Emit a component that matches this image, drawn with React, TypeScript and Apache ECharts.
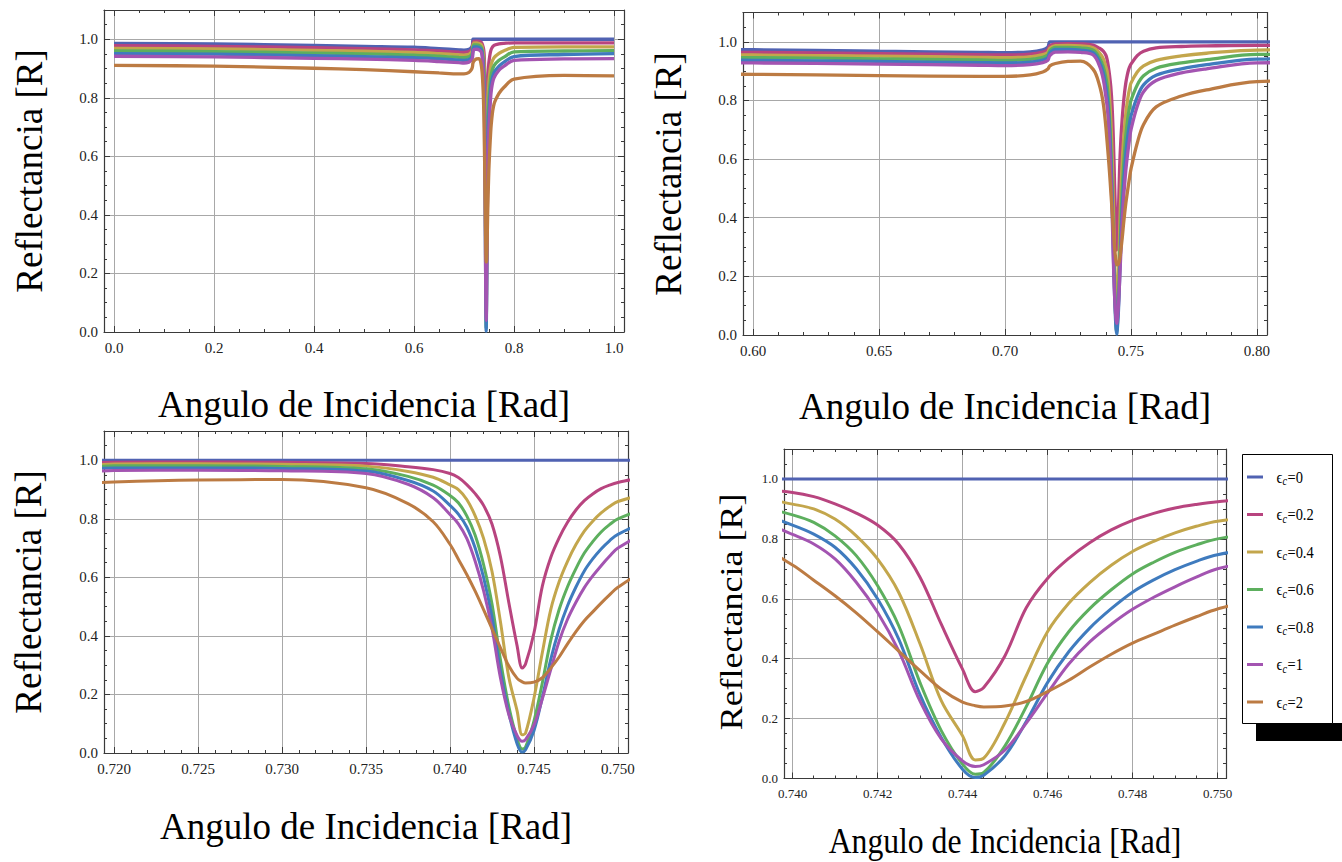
import React, { useEffect, useRef } from "react";
import * as echarts from "echarts";

// Angle of incidence [rad] (shared sample positions)
const ANGLE = [
  0, 0.2, 0.4, 0.5, 0.6, 0.65, 0.69, 0.7, 0.71, 0.715, 0.717, 0.7178, 0.72, 0.725, 0.73, 0.735,
  0.7375, 0.739, 0.74, 0.7405, 0.741, 0.7415, 0.742, 0.7425, 0.743, 0.7435, 0.744, 0.7443, 0.7445,
  0.745, 0.7455, 0.746, 0.7465, 0.747, 0.7475, 0.748, 0.7485, 0.749, 0.7495, 0.75,
  0.7525, 0.755, 0.76, 0.77, 0.78, 0.8, 0.9, 1.0,
];

// Reflectance for each εc
const R_EPS_0 = [
  0.986, 0.984, 0.979, 0.976, 0.973, 0.968, 0.964, 0.963, 0.966, 0.973, 0.982,
  1, 1, 1, 1, 1, 1, 1,
  1, 1, 1, 1, 1, 1, 1, 1, 1, 1, 1,
  1, 1, 1, 1, 1, 1, 1, 1, 1, 1, 1,
  1, 1, 1, 1, 1, 1, 1, 1,
];
const R_EPS_02 = [
  0.978, 0.976, 0.971, 0.968, 0.964, 0.96, 0.956, 0.955, 0.958, 0.965, 0.973,
  0.986, 0.993, 0.994, 0.993, 0.989, 0.978, 0.968,
  0.955, 0.941, 0.917, 0.886, 0.846, 0.782, 0.672, 0.515, 0.365, 0.29, 0.304,
  0.41, 0.57, 0.668, 0.735, 0.788, 0.83, 0.862, 0.885, 0.903, 0.915, 0.924,
  0.953, 0.968, 0.979, 0.984, 0.986, 0.988, 0.988, 0.988,
];
const R_EPS_04 = [
  0.969, 0.967, 0.962, 0.959, 0.955, 0.951, 0.947, 0.946, 0.949, 0.956, 0.964,
  0.978, 0.987, 0.988, 0.986, 0.98, 0.962, 0.942,
  0.916, 0.9, 0.866, 0.81, 0.733, 0.621, 0.45, 0.26, 0.143, 0.062, 0.068,
  0.187, 0.343, 0.49, 0.585, 0.655, 0.712, 0.758, 0.792, 0.82, 0.842, 0.859,
  0.897, 0.918, 0.937, 0.952, 0.961, 0.972, 0.974, 0.974,
];
const R_EPS_06 = [
  0.96, 0.958, 0.953, 0.95, 0.946, 0.942, 0.938, 0.937, 0.94, 0.947, 0.955,
  0.97, 0.981, 0.981, 0.979, 0.971, 0.945, 0.915,
  0.88, 0.855, 0.81, 0.744, 0.644, 0.51, 0.32, 0.16, 0.048, 0.014, 0.02,
  0.109, 0.24, 0.385, 0.49, 0.568, 0.63, 0.683, 0.722, 0.755, 0.78, 0.8,
  0.853, 0.884, 0.91, 0.928, 0.939, 0.957, 0.96, 0.961,
];
const R_EPS_08 = [
  0.951, 0.949, 0.944, 0.941, 0.937, 0.933, 0.929, 0.928, 0.931, 0.938, 0.946,
  0.962, 0.974, 0.974, 0.972, 0.963, 0.931, 0.895,
  0.846, 0.816, 0.772, 0.7, 0.6, 0.465, 0.28, 0.137, 0.031, 0.003, 0.011,
  0.076, 0.19, 0.32, 0.423, 0.503, 0.567, 0.622, 0.663, 0.697, 0.725, 0.747,
  0.812, 0.853, 0.886, 0.908, 0.922, 0.941, 0.948, 0.951,
];
const R_EPS_1 = [
  0.942, 0.94, 0.935, 0.932, 0.928, 0.924, 0.92, 0.919, 0.922, 0.929, 0.937,
  0.953, 0.965, 0.966, 0.964, 0.955, 0.918, 0.872,
  0.815, 0.783, 0.733, 0.655, 0.555, 0.426, 0.258, 0.132, 0.059, 0.04, 0.046,
  0.095, 0.185, 0.285, 0.382, 0.457, 0.515, 0.565, 0.605, 0.64, 0.672, 0.7,
  0.78, 0.83, 0.868, 0.894, 0.908, 0.928, 0.933, 0.934,
];
const R_EPS_2 = [
  0.911, 0.908, 0.901, 0.896, 0.889, 0.885, 0.882, 0.882, 0.887, 0.897, 0.907,
  0.918, 0.926, 0.933, 0.934, 0.906, 0.852, 0.79,
  0.713, 0.662, 0.61, 0.553, 0.49, 0.425, 0.36, 0.298, 0.255, 0.243, 0.239,
  0.242, 0.257, 0.29, 0.328, 0.373, 0.415, 0.452, 0.482, 0.512, 0.54, 0.566,
  0.655, 0.718, 0.778, 0.815, 0.836, 0.864, 0.877, 0.875,
];

const SERIES_VALUES = [R_EPS_0, R_EPS_02, R_EPS_04, R_EPS_06, R_EPS_08, R_EPS_1, R_EPS_2];
const LEGEND_VALUES = ["0", "0.2", "0.4", "0.6", "0.8", "1", "2"];
const SERIES_COLORS = ["#5062B2", "#B8447F", "#C3A64C", "#5DAF5E", "#3F7BBE", "#A354B1", "#BC7B43"];

const Y_TITLE = "Reflectancia [R]";
const X_TITLE = "Angulo de Incidencia [Rad]";
const SERIF = "Liberation Serif";

const PANELS = [
  { left: 104, top: 10, width: 520, height: 322, xMin: -0.02, xMax: 1.02, split: 5, minor: 4, dec: 1, font: 15, lw: 3.3,
    yT: [29, 171], xT: [364, 404], tFont: 37, sx: 1, sy: 1 },
  { left: 743, top: 12.5, width: 524, height: 322.5, xMin: 0.596, xMax: 0.804, split: 4, minor: 5, dec: 2, font: 15, lw: 3.3,
    yT: [668, 174], xT: [1005, 406], tFont: 37, sx: 1, sy: 1 },
  { left: 104, top: 431, width: 524, height: 322, xMin: 0.7194, xMax: 0.7506, split: 6, minor: 5, dec: 3, font: 15, lw: 3,
    yT: [28, 592], xT: [366, 826], tFont: 37, sx: 1, sy: 1 },
  { left: 784, top: 449, width: 442, height: 329.5, xMin: 0.7398, xMax: 0.7502, split: 5, minor: 4, dec: 3, font: 13, lw: 3,
    yT: [731, 612], xT: [1005, 841], tFont: 36, sx: 0.88, sy: 0.85 },
];

export default function App() {
  const ref = useRef<HTMLDivElement>(null);

  useEffect(() => {
    if (!ref.current) return;
    const chart = echarts.init(ref.current, undefined, { renderer: "svg" });

    const grid: any[] = [];
    const xAxis: any[] = [];
    const yAxis: any[] = [];
    const series: any[] = [];
    const graphic: any[] = [];
    const frame = "#3a3a3a";

    PANELS.forEach((p, i) => {
      grid.push({ left: p.left, top: p.top, width: p.width, height: p.height, containLabel: false });
      const tick = { show: true, inside: true, length: 6, lineStyle: { color: frame, width: 1 } };
      const line = { show: true, onZero: false, lineStyle: { color: frame, width: 1.2 } };
      const xMinor = { show: true, splitNumber: p.minor, length: 3, lineStyle: { color: frame, width: 1 } };
      const yMinor = { show: true, splitNumber: 4, length: 3, lineStyle: { color: frame, width: 1 } };
      const labelStyle = { fontFamily: SERIF, fontSize: p.font, color: "#222" };
      xAxis.push({
        type: "value", gridIndex: i, position: "bottom", min: p.xMin, max: p.xMax, splitNumber: p.split,
        axisLine: line, axisTick: tick, minorTick: xMinor,
        splitLine: { show: true, lineStyle: { color: "#a8a8a8", width: 1 } },
        axisLabel: { ...labelStyle, margin: 8, showMinLabel: false, showMaxLabel: false,
          formatter: (v: number) => v.toFixed(p.dec) },
      });
      xAxis.push({
        type: "value", gridIndex: i, position: "top", min: p.xMin, max: p.xMax, splitNumber: p.split,
        axisLine: line, axisTick: tick, minorTick: xMinor, splitLine: { show: false }, axisLabel: { show: false },
      });
      yAxis.push({
        type: "value", gridIndex: i, position: "left", min: 0, max: 1.1, splitNumber: 5,
        axisLine: line, axisTick: tick, minorTick: yMinor,
        splitLine: { show: true, lineStyle: { color: "#a8a8a8", width: 1 } },
        axisLabel: { ...labelStyle, margin: 6, showMinLabel: true, showMaxLabel: false,
          formatter: (v: number) => v.toFixed(1) },
      });
      yAxis.push({
        type: "value", gridIndex: i, position: "right", min: 0, max: 1.1, splitNumber: 5,
        axisLine: line, axisTick: tick, minorTick: yMinor, splitLine: { show: false }, axisLabel: { show: false },
      });

      SERIES_VALUES.forEach((vals, s) => {
        series.push({
          type: "line",
          name: "εc=" + LEGEND_VALUES[s],
          xAxisIndex: 2 * i,
          yAxisIndex: 2 * i,
          data: ANGLE.map((x, k) => [x, vals[k]]),
          showSymbol: false,
          symbol: "none",
          smooth: 0.35,
          clip: true,
          silent: true,
          lineStyle: { color: SERIES_COLORS[s], width: p.lw },
          itemStyle: { color: SERIES_COLORS[s] },
        });
      });

      graphic.push({
        type: "text", x: p.yT[0], y: p.yT[1], rotation: Math.PI / 2, scaleX: 1, scaleY: p.sy,
        style: { text: Y_TITLE, fontSize: p.tFont, fontFamily: SERIF, fill: "#000", textAlign: "center", textVerticalAlign: "middle" },
      });
      graphic.push({
        type: "text", x: p.xT[0], y: p.xT[1], scaleX: p.sx, scaleY: 1,
        style: { text: X_TITLE, fontSize: p.tFont, fontFamily: SERIF, fill: "#000", textAlign: "center", textVerticalAlign: "middle" },
      });
    });

    // Legend
    graphic.push({ type: "rect", shape: { x: 1256, y: 723, width: 86, height: 18 }, style: { fill: "#000" } });
    graphic.push({
      type: "rect", shape: { x: 1242.5, y: 454.5, width: 90, height: 269 },
      style: { fill: "#fff", stroke: "#000", lineWidth: 1 },
    });
    LEGEND_VALUES.forEach((v, i) => {
      const yc = 477 + 37.5 * i;
      graphic.push({ type: "line", shape: { x1: 1247, y1: yc, x2: 1263, y2: yc }, style: { stroke: SERIES_COLORS[i], lineWidth: 3 } });
      graphic.push({ type: "text", x: 1276.5, y: yc, scaleX: 0.85,
        style: { text: "ϵ", fontSize: 17, fontFamily: SERIF, fill: "#000", textAlign: "left", textVerticalAlign: "middle" } });
      graphic.push({ type: "text", x: 1282.5, y: yc + 4, scaleX: 0.85,
        style: { text: "c", fontSize: 12, fontStyle: "italic", fontFamily: SERIF, fill: "#000", textAlign: "left", textVerticalAlign: "middle" } });
      graphic.push({ type: "text", x: 1287.5, y: yc, scaleX: 0.85,
        style: { text: "=" + v, fontSize: 17, fontFamily: SERIF, fill: "#000", textAlign: "left", textVerticalAlign: "middle" } });
    });

    chart.setOption({
      animation: false,
      backgroundColor: "#fff",
      grid,
      xAxis,
      yAxis,
      series,
      graphic,
    });

    return () => chart.dispose();
  }, []);

  return (
    <div
      ref={ref}
      style={{ position: "absolute", left: 0, top: 0, width: 1342, height: 862, background: "#fff" }}
    />
  );
}
